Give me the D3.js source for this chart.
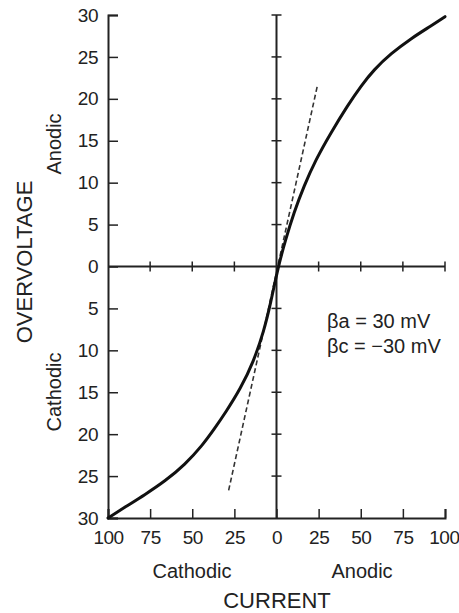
<!DOCTYPE html>
<html lang="en">
<head>
	<meta charset="UTF-8">
	<title>Overvoltage vs current</title>
	<script src="https://cdn.jsdelivr.net/npm/d3@7"></script>
	<style>
		html,body{margin:0;padding:0;background:#fff;}
		svg{display:block;}
		text{font-family:"Liberation Sans",Arial,sans-serif;fill:#222;}
	</style>
</head>
<body>
	<div id="main"></div>
	<script>
		// values: current (arbitrary units), overvoltage (mV)
		var curveCurrent = [-100, -89.9, -78, -66.1, -54.2, -44.2, -36.3, -30.5, -21.4, -13.5, -7.5, -3.6,
			1, 5.4, 10.3, 16.3, 23.2, 32.1, 42.5, 50, 57.9, 67.9, 79.8, 91.7, 100];
		var curveVoltage = [-30, -28.7, -27.2, -25.6, -23.6, -21.4, -19.2, -17.5, -14.6, -11.3, -7.7, -4.5,
			0, 3.2, 6.4, 9.6, 12.7, 15.9, 19.3, 21.5, 23.5, 25.4, 27.2, 28.7, 29.8];
		var tangentCurrent = [-28.4, 24.4];
		var tangentVoltage = [-26.7, 21.7];
		var currentTicks = [-100, -75, -50, -25, 0, 25, 50, 75, 100];
		var voltageTicks = [-30, -25, -20, -15, -10, -5, 0, 5, 10, 15, 20, 25, 30];
		var betaLabels = ["\u03B2a = 30 mV", "\u03B2c = \u221230 mV"];

		var w = 459, h = 613;
		var svg = d3.select("#main").append("svg").attr("width", w).attr("height", h);

		var x = d3.scaleLinear().domain([-100, 100]).range([108, 445]);
		var y = d3.scaleLinear().domain([-30, 30]).range([518, 15]);

		var axisColor = "#222";

		// left axis, ticks point inward
		var left = svg.append("g")
			.attr("transform", "translate(" + x(-100) + ",0)")
			.call(d3.axisLeft(y).tickValues(voltageTicks).tickSize(-10).tickPadding(10)
				.tickFormat(function(d){ return Math.abs(d); }));
		// bottom axis
		var bottom = svg.append("g")
			.attr("transform", "translate(0," + y(-30) + ")")
			.call(d3.axisBottom(x).tickValues(currentTicks).tickSize(-9).tickPadding(15)
				.tickFormat(function(d){ return Math.abs(d); }));
		[left, bottom].forEach(function(g){
			g.select(".domain").attr("stroke", axisColor).attr("stroke-width", 2);
			g.selectAll(".tick line").attr("stroke", axisColor).attr("stroke-width", 1.5);
			g.selectAll(".tick text").style("font-size", "19px").style("letter-spacing", "-0.5px").attr("fill", "#222");
		});
		bottom.selectAll(".tick text").attr("dy", "0.6em");
		// keep the last label inside the window
		bottom.selectAll(".tick").filter(function(d){ return d === 100; }).select("text")
			.attr("text-anchor", "end").attr("x", 459 - x(100));

		// centre axes crossing at the origin
		svg.append("line")
			.attr("x1", x(0)).attr("x2", x(0)).attr("y1", y(30)).attr("y2", y(-30))
			.attr("stroke", axisColor).attr("stroke-width", 2);
		svg.append("line")
			.attr("x1", x(-100)).attr("x2", x(100)).attr("y1", y(0)).attr("y2", y(0))
			.attr("stroke", axisColor).attr("stroke-width", 2);
		svg.append("g").selectAll("line")
			.data(voltageTicks.filter(function(d){ return d !== 0 && d !== -30; }))
			.enter().append("line")
			.attr("x1", x(0) - 5).attr("x2", x(0) + 5)
			.attr("y1", function(d){ return y(d); }).attr("y2", function(d){ return y(d); })
			.attr("stroke", axisColor).attr("stroke-width", 1.5);
		svg.append("g").selectAll("line")
			.data(currentTicks.filter(function(d){ return d !== 0 && d !== -100; }))
			.enter().append("line")
			.attr("x1", function(d){ return x(d); }).attr("x2", function(d){ return x(d); })
			.attr("y1", y(0) - 5).attr("y2", y(0) + 5)
			.attr("stroke", axisColor).attr("stroke-width", 1.5);

		// tangent (dashed)
		svg.append("path")
			.datum(d3.zip(tangentCurrent, tangentVoltage))
			.attr("d", d3.line().x(function(d){ return x(d[0]); }).y(function(d){ return y(d[1]); }))
			.attr("fill", "none").attr("stroke", "#333").attr("stroke-width", 1.6)
			.attr("stroke-dasharray", "5,3");

		// polarization curve
		svg.append("path")
			.datum(d3.zip(curveCurrent, curveVoltage))
			.attr("d", d3.line().curve(d3.curveBasis)
				.x(function(d){ return x(d[0]); }).y(function(d){ return y(d[1]); }))
			.attr("fill", "none").attr("stroke", "#111").attr("stroke-width", 3)
			.attr("stroke-linecap", "round");

		// labels
		svg.append("text").attr("transform", "translate(32,262) rotate(-90)")
			.attr("text-anchor", "middle").style("font-size", "22px").text("OVERVOLTAGE");
		svg.append("text").attr("transform", "translate(61,144) rotate(-90)")
			.attr("text-anchor", "middle").style("font-size", "20px").text("Anodic");
		svg.append("text").attr("transform", "translate(61,392) rotate(-90)")
			.attr("text-anchor", "middle").style("font-size", "20px").text("Cathodic");
		svg.append("text").attr("x", 192).attr("y", 578)
			.attr("text-anchor", "middle").style("font-size", "20px").text("Cathodic");
		svg.append("text").attr("x", 362).attr("y", 578)
			.attr("text-anchor", "middle").style("font-size", "20px").text("Anodic");
		svg.append("text").attr("x", 277).attr("y", 608)
			.attr("text-anchor", "middle").style("font-size", "22px").text("CURRENT");
		svg.append("g").selectAll("text").data(betaLabels).enter().append("text")
			.attr("x", 327).attr("y", function(d, i){ return 328 + i * 25; })
			.style("font-size", "20px").text(function(d){ return d; });
	</script>
</body>
</html>
